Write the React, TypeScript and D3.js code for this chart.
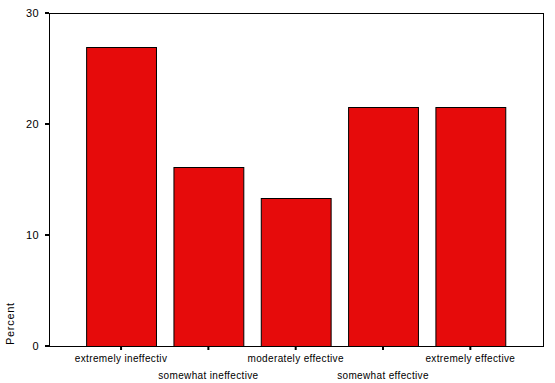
import React from "react";
import * as d3 from "d3";

const categories = [
  "extremely ineffectiv",
  "somewhat ineffective",
  "moderately effective",
  "somewhat effective",
  "extremely effective",
];
const percents = [26.9, 16.1, 13.3, 21.5, 21.5];
const yTicks = [0, 10, 20, 30];
const yTitle = "Percent";

export default function App() {
  const W = 555, H = 383;
  const left = 49, right = 543, top = 13, bottom = 346;
  const y = d3.scaleLinear().domain([0, 30]).range([bottom, top]);
  const x = d3
    .scaleBand<string>()
    .domain(categories)
    .range([77.4, 514])
    .paddingInner(0.2)
    .paddingOuter(0.1);
  const font = "'Liberation Sans', Arial, sans-serif";
  return (
    <svg
      width={W}
      height={H}
      style={{ position: "absolute", left: 0, top: 0, background: "#fff" }}
      fontFamily={font}
    >
      <rect x={0} y={0} width={W} height={H} fill="#fff" />
      {categories.map((c, i) => (
        <rect
          key={c}
          x={x(c)! + 0.5}
          y={Math.round(y(percents[i])) + 0.5}
          width={x.bandwidth()}
          height={bottom - Math.round(y(percents[i]))}
          fill="#e60b0b"
          stroke="#000"
          strokeWidth={1}
        />
      ))}
      <rect
        x={left + 0.5}
        y={top + 0.5}
        width={right - left}
        height={bottom - top}
        fill="none"
        stroke="#000"
        strokeWidth={1}
      />
      {yTicks.map((t) => (
        <g key={t}>
          <line x1={left - 4} x2={left} y1={y(t)} y2={y(t)} stroke="#000" strokeWidth={2} />
          <text x={39} y={y(t) + 4} textAnchor="end" fontSize={11} letterSpacing={0.4} fill="#000">
            {t}
          </text>
        </g>
      ))}
      {categories.map((c, i) => {
        const cx = x(c)! + x.bandwidth() / 2;
        return (
          <g key={c}>
            <line x1={cx} x2={cx} y1={bottom + 1} y2={bottom + 4} stroke="#000" strokeWidth={2} />
            <text
              x={cx}
              y={i % 2 === 0 ? 362 : 379}
              textAnchor="middle"
              fontSize={10}
              letterSpacing={0.35}
              fill="#000"
            >
              {c}
            </text>
          </g>
        );
      })}
      <text
        transform={`translate(14,345) rotate(-90)`}
        textAnchor="start"
        fontSize={11}
        letterSpacing={0.7}
        fill="#000"
      >
        {yTitle}
      </text>
    </svg>
  );
}
